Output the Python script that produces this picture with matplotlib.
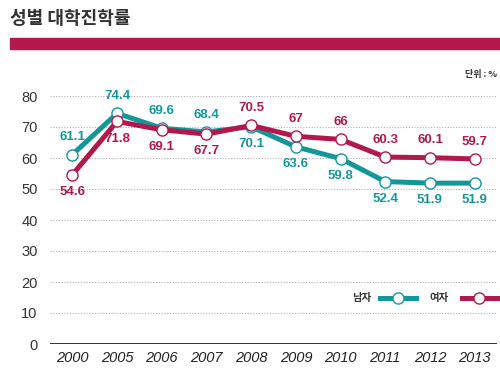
import matplotlib
matplotlib.use("Agg")
import matplotlib.pyplot as plt
from matplotlib.patches import Rectangle
from matplotlib.lines import Line2D

years = ["2000", "2005", "2006", "2007", "2008", "2009", "2010", "2011", "2012", "2013"]
male = [61.1, 74.4, 69.6, 68.4, 70.1, 63.6, 59.8, 52.4, 51.9, 51.9]
female = [54.6, 71.8, 69.1, 67.7, 70.5, 67, 66, 60.3, 60.1, 59.7]
male_label_pos = ["above", "above", "above", "above", "below", "below", "below", "below", "below", "below"]
female_label_pos = ["below", "below", "below", "below", "above", "above", "above", "above", "above", "above"]
yticks = [0, 10, 20, 30, 40, 50, 60, 70, 80]

TEAL = "#13979B"
CRIMSON = "#B3184C"
KR = ["Noto Sans CJK KR", "DejaVu Sans"]
NUM = ["Liberation Sans", "DejaVu Sans"]

fig = plt.figure(figsize=(5, 3.7), dpi=100)
ax = fig.add_axes([0.1, 26 / 370, 0.894, (344 - 96) / 370])

x = list(range(len(years)))
ax.set_xlim(-0.5, len(years) - 0.5)
ax.set_ylim(0, 80)

for y in yticks[1:]:
    ax.axhline(y, color="#b0b0b0", lw=0.8, ls=(0, (1, 1.5)), zorder=0)
ax.axhline(0, color="#222222", lw=1.3, zorder=1)

ax.plot(x, male, color=TEAL, lw=3.6, marker="o", ms=8, mfc="white",
        mec=TEAL, mew=1.0, clip_on=False, zorder=3, solid_joinstyle="miter")
ax.plot(x, female, color=CRIMSON, lw=3.6, marker="o", ms=8, mfc="white",
        mec=CRIMSON, mew=1.0, clip_on=False, zorder=4, solid_joinstyle="miter")

def label(vals, pos, color):
    for xi, v, p in zip(x, vals, pos):
        off = 12.5 if p == "above" else -12.5
        ax.annotate(f"{v:g}", (xi, v), xytext=(0, off), textcoords="offset points",
                    ha="center", va="center", color=color, fontsize=9.5,
                    fontweight="bold", family=NUM, annotation_clip=False)

label(male, male_label_pos, TEAL)
label(female, female_label_pos, CRIMSON)

ax.set_yticks(yticks)
ax.set_yticklabels([str(t) for t in yticks], family=NUM, fontsize=10.5, color="#333333")
ax.set_xticks(x)
ax.set_xticklabels(years, family=NUM, fontsize=10.5, style="italic", color="#222222")
ax.tick_params(length=0, pad=9)
ax.tick_params(axis="x", pad=5)
for s in ax.spines.values():
    s.set_visible(False)

# title and bar
fig.text(10 / 500, 1 - 18 / 370, "성별 대학진학률", family=KR, fontsize=13,
         color="#333333", va="center", ha="left", fontweight="bold")
fig.patches.append(Rectangle((10 / 500, 1 - 49 / 370), 490 / 500, 11 / 370,
                             transform=fig.transFigure, color=CRIMSON, zorder=1))
fig.text(497 / 500, 1 - 75 / 370, "단위 : %", family=KR, fontsize=6.5,
         color="#333333", va="center", ha="right", fontweight="bold")

# legend
ly = 1 - 298 / 370
fig.text(371 / 500, ly, "남자", family=KR, fontsize=7.5, color="#333333", va="center",
         ha="right", fontweight="bold")
fig.lines.append(Line2D([380 / 500, 416 / 500], [ly, ly], transform=fig.transFigure,
                        color=TEAL, lw=3.6))
fig.lines.append(Line2D([398 / 500], [ly], transform=fig.transFigure, marker="o", ms=8,
                        mfc="white", mec=TEAL, mew=1.0, ls="none"))
fig.text(449 / 500, ly, "여자", family=KR, fontsize=7.5, color="#333333", va="center",
         ha="right", fontweight="bold")
fig.lines.append(Line2D([462 / 500, 497 / 500], [ly, ly], transform=fig.transFigure,
                        color=CRIMSON, lw=3.6))
fig.lines.append(Line2D([479 / 500], [ly], transform=fig.transFigure, marker="o", ms=8,
                        mfc="white", mec=CRIMSON, mew=1.0, ls="none"))

fig.savefig("out.png", dpi=100)
